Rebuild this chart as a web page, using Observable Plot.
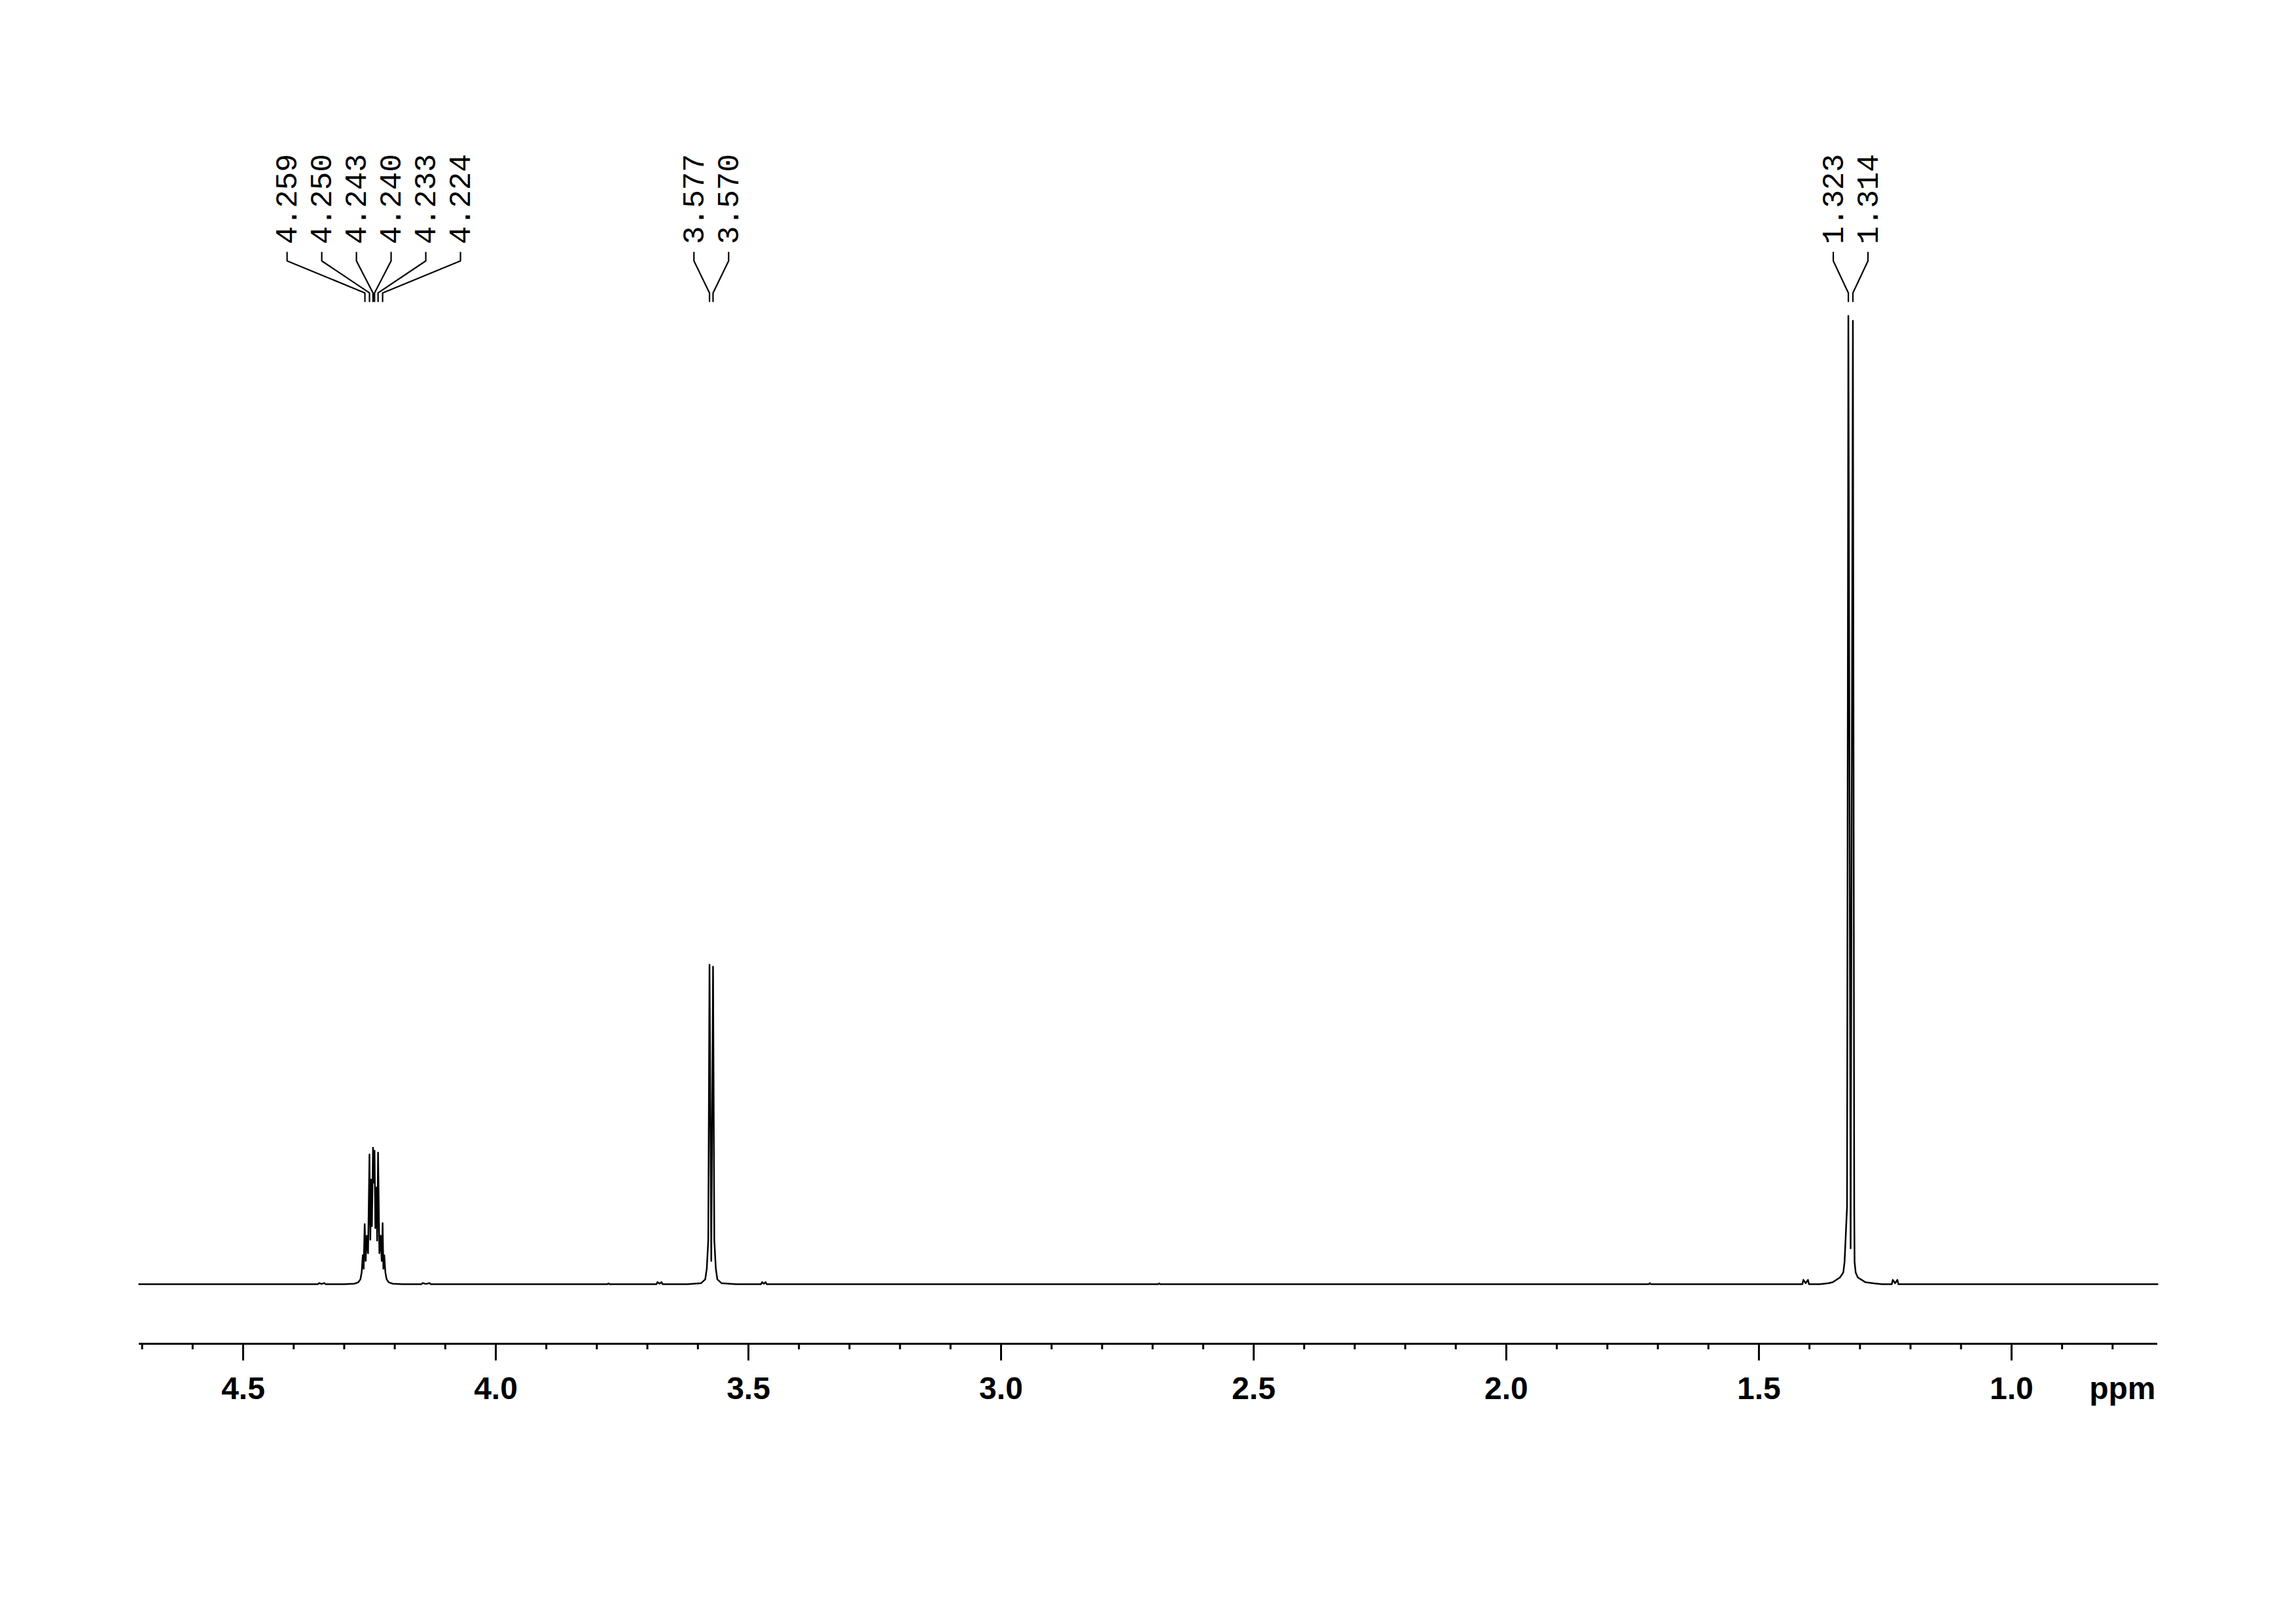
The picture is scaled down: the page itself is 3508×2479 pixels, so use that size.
<!DOCTYPE html>
<html>
<head>
<meta charset="utf-8">
<script src="https://cdn.jsdelivr.net/npm/d3@7"></script>
<script src="https://cdn.jsdelivr.net/npm/@observablehq/plot@0.6"></script>
<style>
  html, body { margin: 0; padding: 0; background: #ffffff; }
  #chart svg { display: block; }
</style>
</head>
<body>
<div id="chart"></div>
<script>
// ---- Data ----
// Spectrum vertices (chemical shift in ppm, relative intensity; tallest line = 100)
const spectrumPpm = [
  4.706, 4.360, 4.352, 4.350, 4.3445, 4.339, 4.337, 4.300,
  4.280, 4.272, 4.268, 4.2655, 4.2632, 4.2615, 4.2595, 4.2575, 4.2553, 4.2528,
  4.2500, 4.2483, 4.2468, 4.2452, 4.2430, 4.2417, 4.2400, 4.2384, 4.2362, 4.2348,
  4.2330, 4.2304, 4.2280, 4.2258, 4.2240, 4.2225, 4.2208, 4.2185, 4.216, 4.212, 4.204, 4.185,
  4.147, 4.145, 4.138, 4.131, 4.129,
  3.779, 3.777, 3.775,
  3.682, 3.680, 3.676, 3.672, 3.670,
  3.620, 3.594, 3.5855, 3.5824, 3.5795, 3.5770, 3.5735, 3.5700, 3.5675, 3.5645, 3.5615, 3.553, 3.525,
  3.475, 3.473, 3.4695, 3.466, 3.464,
  2.689, 2.687, 2.685,
  1.718, 1.716, 1.714,
  1.414, 1.412, 1.4075, 1.403, 1.401,
  1.380, 1.365, 1.354, 1.3396, 1.3331, 1.3305, 1.3256, 1.3230, 1.3185, 1.3140, 1.3114,
  1.3107, 1.3085, 1.3042, 1.2890, 1.272, 1.257,
  1.237, 1.235, 1.2305, 1.226, 1.224,
  0.711
];
const spectrumIntensity = [
  0, 0, 0, 0.12, 0.03, 0.12, 0, 0,
  0.05, 0.2, 0.5, 1.2, 3.0, 1.6, 6.2, 2.4, 5.0, 3.2,
  13.4, 4.6, 10.8, 6.0, 14.1, 10.5, 13.8, 5.8, 10.0, 4.5,
  13.6, 3.2, 5.0, 2.4, 6.3, 1.6, 3.0, 1.2, 0.5, 0.2, 0.05, 0,
  0, 0.12, 0.03, 0.12, 0,
  0, 0.08, 0,
  0, 0.22, 0.05, 0.22, 0,
  0, 0.1, 0.5, 1.6, 4.5, 33.0, 2.4, 32.8, 4.5, 1.6, 0.5, 0.1, 0,
  0, 0.22, 0.05, 0.22, 0,
  0, 0.08, 0,
  0, 0.12, 0,
  0, 0.45, 0.1, 0.45, 0,
  0, 0.08, 0.2, 0.7, 1.2, 2.3, 8.0, 100, 3.7, 99.5, 8.0,
  2.3, 1.2, 0.7, 0.2, 0.08, 0,
  0, 0.45, 0.1, 0.45, 0,
  0
];

// Picked peaks (labels shown above the spectrum) and their multiplet groups
const pickedPeaks  = [4.259, 4.250, 4.243, 4.240, 4.233, 4.224, 3.577, 3.570, 1.323, 1.314];
const pickedGroups = [0, 0, 0, 0, 0, 0, 1, 1, 2, 2];

// Axis ticks
const majorTicks = [4.5, 4.0, 3.5, 3.0, 2.5, 2.0, 1.5, 1.0];
const minorTicks = [4.7, 4.6, 4.4, 4.3, 4.2, 4.1, 3.9, 3.8, 3.7, 3.6, 3.4, 3.3, 3.2, 3.1,
                    2.9, 2.8, 2.7, 2.6, 2.4, 2.3, 2.2, 2.1, 1.9, 1.8, 1.7, 1.6, 1.4, 1.3,
                    1.2, 1.1, 0.9, 0.8];
const axisUnit = "ppm";

// ---- Layout ----
const W = 3508, H = 2479;
const xDomain = [4.706, 0.711];
const yDomain = [-6.15, 100];
const labelStep = 0.06864;          // spacing between peak labels, in ppm
const labelV = 107.4;               // label start (intensity units above tallest line)
const leadV = [106.56, 105.68, 102.37, 101.49];

const spectrum = spectrumPpm.map((p, i) => ({ppm: p, v: spectrumIntensity[i]}));

// Peak label positions: centred over each multiplet
const groupIds = Array.from(new Set(pickedGroups));
const labels = [];
for (const g of groupIds) {
  const members = pickedPeaks.map((p, i) => ({p, i})).filter(d => pickedGroups[d.i] === g);
  const c = d3.mean(members, d => d.p);
  const n = members.length;
  members.forEach((d, k) => {
    labels.push({peak: d.p, lx: c + ((n - 1) / 2 - k) * labelStep, text: d3.format(".3f")(d.p), id: d.i});
  });
}
const leaders = labels.flatMap(l => [
  {x: l.lx, y: leadV[0], id: l.id},
  {x: l.lx, y: leadV[1], id: l.id},
  {x: l.peak, y: leadV[2], id: l.id},
  {x: l.peak, y: leadV[3], id: l.id}
]);

const sans = "'Liberation Sans', Arial, Helvetica, sans-serif";
const mono = "'Liberation Mono', 'Courier New', monospace";

const chart = Plot.plot({
  width: W,
  height: H,
  marginLeft: 212,
  marginRight: 212,
  marginTop: 482,
  marginBottom: 427,
  x: {domain: xDomain},
  y: {domain: yDomain, axis: null},
  style: {background: "white", color: "black", overflow: "visible"},
  marks: [
    Plot.ruleY([yDomain[0]], {stroke: "black", strokeWidth: 3}),
    Plot.axisX(minorTicks, {anchor: "bottom", tickSize: 9, strokeWidth: 3, tickFormat: () => "", label: null}),
    Plot.axisX(majorTicks, {
      anchor: "bottom", tickSize: 26, tickPadding: 24, strokeWidth: 3,
      tickFormat: d3.format(".1f"), fontSize: 48, fontWeight: "bold", fontFamily: sans, label: null
    }),
    Plot.text([axisUnit], {
      text: d => d, frameAnchor: "bottom-right", textAnchor: "end", lineAnchor: "top",
      dx: -3, dy: 50, fontSize: 48, fontWeight: "bold", fontFamily: sans, fill: "black"
    }),
    Plot.line(spectrum, {x: "ppm", y: "v", stroke: "black", strokeWidth: 2.5}),
    Plot.line(leaders, {x: "x", y: "y", z: "id", stroke: "black", strokeWidth: 2.2, strokeLinejoin: "miter"}),
    Plot.text(labels, {
      x: "lx", y: () => labelV, text: "text", rotate: -90,
      textAnchor: "start", lineAnchor: "middle",
      fontSize: 46, fontFamily: mono, fill: "black"
    })
  ]
});

document.getElementById("chart").appendChild(chart);
</script>
</body>
</html>
